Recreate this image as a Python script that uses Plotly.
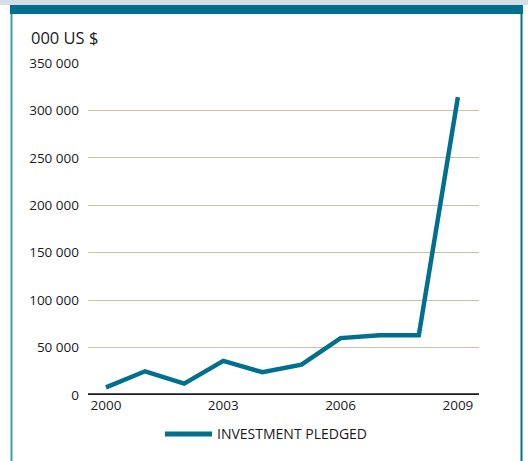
import plotly.graph_objects as go

years = [2000, 2001, 2002, 2003, 2004, 2005, 2006, 2007, 2008, 2009]
pledged = [8000, 25000, 12000, 36000, 24000, 32000, 60000, 63000, 63000, 314000]
tick_vals = [0, 50000, 100000, 150000, 200000, 250000, 300000, 350000]
tick_text = ["0", "50 000", "100 000", "150 000", "200 000", "250 000", "300 000", "350 000"]
series_name = "INVESTMENT PLEDGED"

W, H = 528, 461
L, R, T, B = 88, 49, 63, 66
pw, ph = W - L - R, H - T - B

def px_x(x):
    return (x - L) / pw

def px_y(y):
    return (H - B - y) / ph

teal = "#00708e"

fig = go.Figure()
fig.add_trace(go.Scatter(x=years, y=pledged, mode="lines", name=series_name,
                         line=dict(color=teal, width=4.5), showlegend=False))

shapes = [
    # frame: top strip, teal band, side borders
    dict(type="rect", xref="paper", yref="paper", x0=px_x(0), x1=px_x(W), y0=px_y(5), y1=px_y(0),
         fillcolor="#d3dfe5", line_width=0, layer="below"),
    dict(type="rect", xref="paper", yref="paper", x0=px_x(10), x1=px_x(523), y0=px_y(14), y1=px_y(5),
         fillcolor=teal, line_width=0, layer="below"),
    dict(type="line", xref="paper", yref="paper", x0=px_x(11.5), x1=px_x(11.5), y0=px_y(H), y1=px_y(14),
         line=dict(color="#3b9cb8", width=2)),
    dict(type="line", xref="paper", yref="paper", x0=px_x(521.5), x1=px_x(521.5), y0=px_y(H), y1=px_y(14),
         line=dict(color=teal, width=2)),
    # zero line
    dict(type="line", xref="paper", yref="y", x0=0, x1=1, y0=0, y1=0,
         line=dict(color="#1a1a1a", width=3.5)),
    # legend swatch
    dict(type="line", xref="paper", yref="paper", x0=px_x(165), x1=px_x(212), y0=px_y(434), y1=px_y(434),
         line=dict(color=teal, width=5)),
]

fig.update_layout(
    width=W, height=H,
    margin=dict(l=L, r=R, t=T, b=B),
    paper_bgcolor="white", plot_bgcolor="white",
    font=dict(family="Open Sans, Noto Sans, sans-serif", size=13.5, color="#1a1a1a"),
    shapes=shapes,
    showlegend=False,
    annotations=[
        dict(text="000 US $", xref="paper", yref="paper", x=px_x(29), y=px_y(38),
             xanchor="left", yanchor="middle", showarrow=False,
             font=dict(size=16.5, color="#1a1a1a")),
        dict(text=series_name, xref="paper", yref="paper", x=px_x(215), y=px_y(434),
             xanchor="left", yanchor="middle", showarrow=False,
             font=dict(size=14, color="#1a1a1a")),
    ],
)
fig.update_xaxes(range=[1999.54, 2009.54], tickvals=[2000, 2003, 2006, 2009],
                 showgrid=False, zeroline=False, showline=False, ticks="", ticklabelstandoff=0)
fig.update_yaxes(range=[0, 350000], tickvals=tick_vals, ticktext=tick_text,
                 showgrid=True, gridcolor="#cbc1aa", gridwidth=1.2, zeroline=False,
                 showline=False, ticks="", ticklabelstandoff=8)

fig.write_html("out.html", config={"displayModeBar": False},
               post_script="document.body.style.margin='0';")
